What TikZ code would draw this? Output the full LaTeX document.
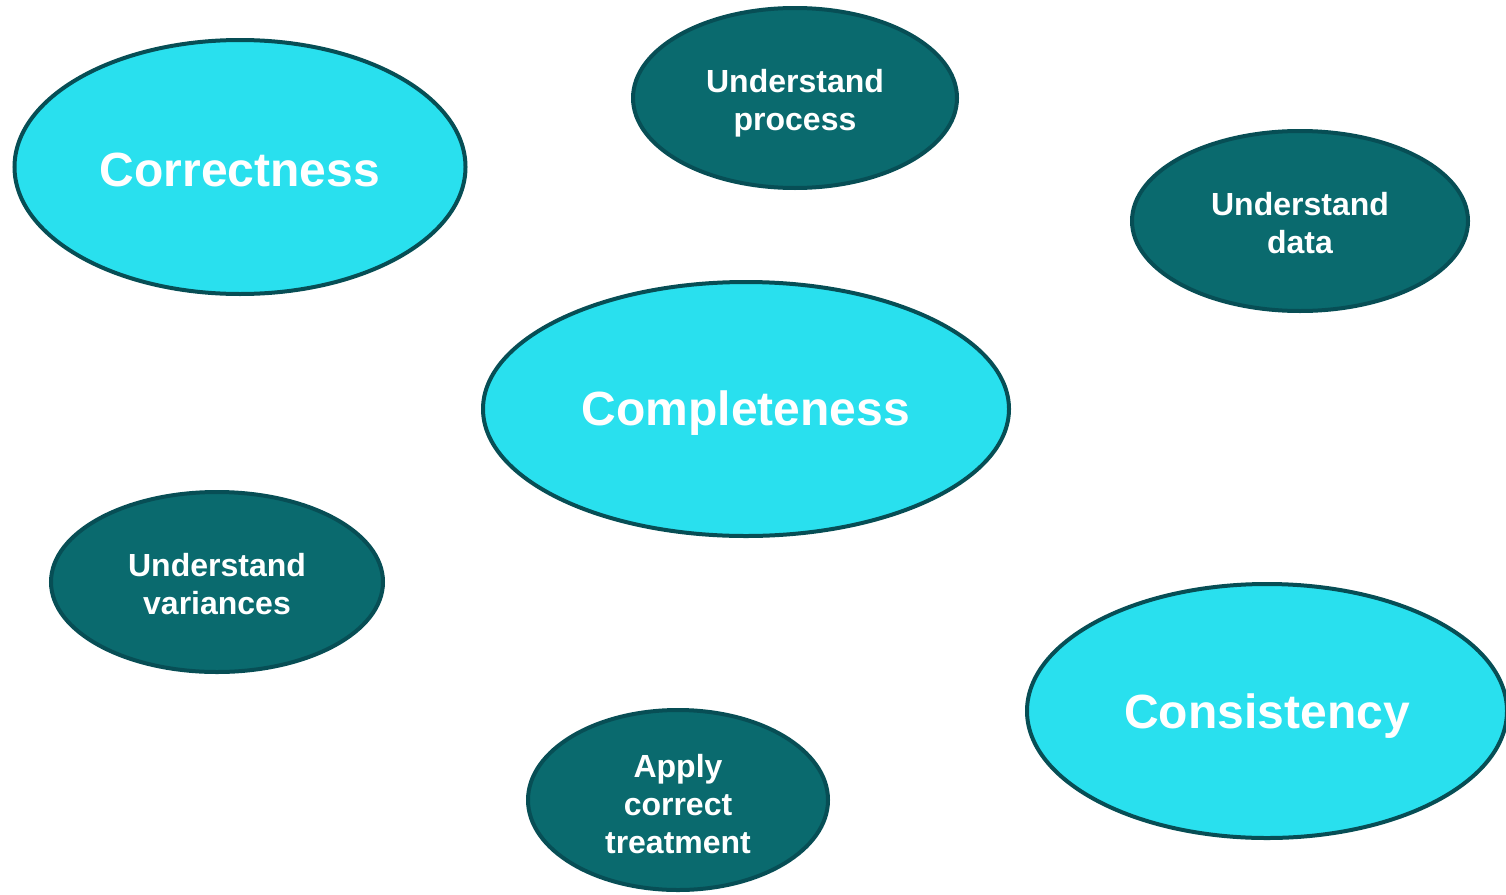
\documentclass[tikz,border=0pt]{standalone}
\usepackage{fontspec}
\setmainfont{Liberation Sans}
\usetikzlibrary{shapes.geometric}
\definecolor{cyanfill}{HTML}{29E0EE}
\definecolor{tealfill}{HTML}{0A6A6E}
\definecolor{edgecol}{HTML}{074E55}
\tikzset{
  bigoval/.style={ellipse, draw=edgecol, line width=4pt, fill=cyanfill, inner sep=0pt},
  smalloval/.style={ellipse, draw=edgecol, line width=4pt, fill=tealfill, inner sep=0pt},
  bigtext/.style={text=white, font=\bfseries\fontsize{48}{56}\selectfont, align=center, inner sep=0pt},
  smalltext/.style={text=white, font=\bfseries\fontsize{32}{38}\selectfont, align=center, inner sep=0pt}
}
\begin{document}
\begin{tikzpicture}[x=1pt,y=1pt]
\useasboundingbox (0,0) rectangle (1506,-894);
\node[bigoval, minimum width=451pt, minimum height=254pt] (correct) at (240,-167) {};
\node[smalloval, minimum width=324pt, minimum height=180pt] (process) at (795,-98) {};
\node[smalloval, minimum width=336pt, minimum height=180pt] (data) at (1300,-221) {};
\node[bigoval, minimum width=526pt, minimum height=254pt] (complete) at (746,-409) {};
\node[smalloval, minimum width=332pt, minimum height=180pt] (variances) at (217,-582) {};
\node[bigoval, minimum width=480pt, minimum height=254pt] (consist) at (1267,-711) {};
\node[smalloval, minimum width=300pt, minimum height=180pt] (apply) at (678,-800) {};
\node[bigtext] (correctt) at ([yshift=-3pt]correct.center) {Correctness};
\node[smalltext] (processt) at ([yshift=-5pt]process.center) {Understand\\process};
\node[smalltext] (datat) at ([yshift=-2pt]data.center) {Understand\\data};
\node[bigtext] (completet) at ([yshift=-4pt]complete.center) {Completeness};
\node[smalltext] (variancest) at ([yshift=-2pt]variances.center) {Understand\\variances};
\node[bigtext] (consistt) at ([yshift=-5pt]consist.center) {Consistency};
\node[smalltext] (applyt) at ([yshift=-4pt]apply.center) {Apply\\correct\\treatment};
\end{tikzpicture}
\end{document}
